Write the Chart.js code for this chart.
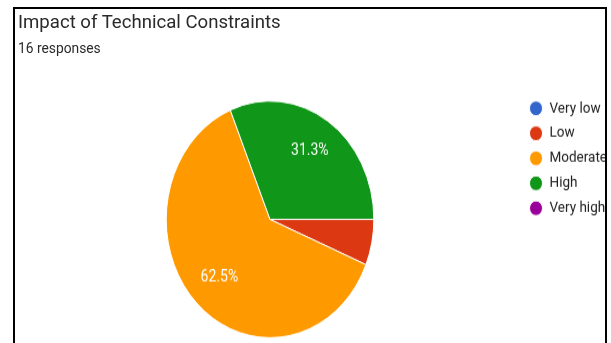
<!DOCTYPE html>
<html>
<head>
<meta charset="utf-8">
<script src="https://cdn.jsdelivr.net/npm/chart.js@4.4.0/dist/chart.umd.min.js"></script>
<style>
  html, body { margin: 0; padding: 0; background: #fff; }
  body { width: 611px; height: 343px; overflow: hidden; position: relative; font-family: Roboto, sans-serif; }
  #frame { position: absolute; left: 13px; top: 7px; width: 594px; height: 345px; box-sizing: border-box;
           border: 2px solid #000; border-bottom: none; overflow: hidden; background: #fff; }
  #title { position: absolute; left: 3px; top: 0.5px; font-size: 18.6px; line-height: 24px; color: #2a2a2a; white-space: nowrap; }
  #sub { position: absolute; left: 3px; top: 30px; font-size: 13.8px; line-height: 18px; color: #2a2a2a; white-space: nowrap; }
  #plot { position: absolute; left: 0; top: 0; width: 602px; height: 300px; transform: scaleY(1.14); transform-origin: 0 0; }
</style>
</head>
<body>
<div id="frame">
  <div id="plot"><canvas id="impactPie" width="602" height="300"></canvas></div>
  <div id="title">Impact of Technical Constraints</div>
  <div id="sub">16 responses</div>
</div>
<script>
const categories = ['Very low', 'Low', 'Moderate', 'High', 'Very high'];
const responses = [0, 1, 10, 5, 0];
const sliceColors = ['#3366cc', '#dc3912', '#ff9900', '#109618', '#990099'];

// white percentage text inside the bigger slices, like Google Forms
const sliceLabels = {
    id: 'sliceLabels',
    afterDatasetsDraw(chart) {
        const ctx = chart.ctx;
        const data = chart.data.datasets[0].data;
        const total = data.reduce((a, b) => a + b, 0);
        chart.getDatasetMeta(0).data.forEach((arc, i) => {
            const share = data[i] / total;
            if (share < 0.1) return;
            const p = arc.getProps(['x', 'y', 'startAngle', 'endAngle', 'outerRadius'], true);
            const mid = (p.startAngle + p.endAngle) / 2;
            const r = p.outerRadius * 0.69;
            ctx.save();
            ctx.fillStyle = '#ffffff';
            ctx.font = '14px Roboto';
            ctx.textAlign = 'center';
            ctx.textBaseline = 'middle';
            ctx.fillText((share * 100).toFixed(1) + '%', p.x + Math.cos(mid) * r, p.y + Math.sin(mid) * r);
            ctx.restore();
        });
    }
};

const ctx = document.getElementById('impactPie').getContext('2d');
const impactPie = new Chart(ctx, {
    type: 'pie',
    data: {
        labels: categories,
        datasets: [{
            data: responses,
            backgroundColor: sliceColors,
            borderColor: '#ffffff',
            borderWidth: 1,
            radius: 103.8
        }]
    },
    options: {
        responsive: false,
        animation: false,
        events: [],
        rotation: 90,
        layout: {
            padding: { top: 72, bottom: 2.9, left: 4.2, right: 0 }
        },
        plugins: {
            legend: {
                position: 'right',
                align: 'start',
                labels: {
                    usePointStyle: true,
                    pointStyle: 'circle',
                    boxWidth: 13.5,
                    boxHeight: 9.2,
                    padding: 8.4,
                    color: '#222222',
                    font: { family: 'Roboto', size: 13.5 }
                }
            },
            tooltip: { enabled: false }
        }
    },
    plugins: [sliceLabels]
});
</script>
</body>
</html>
